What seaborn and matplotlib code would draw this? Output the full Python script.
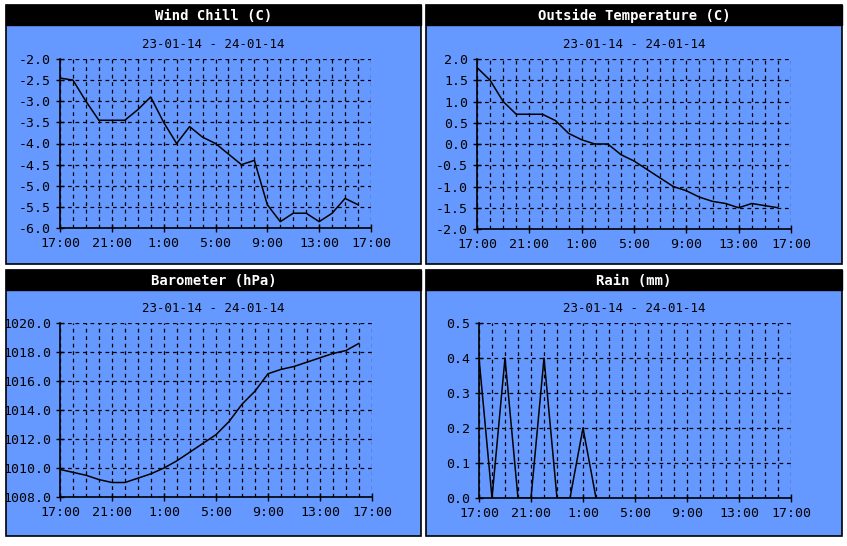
import numpy as np
import pandas as pd
import seaborn as sns
import matplotlib.pyplot as plt
from matplotlib.patches import Rectangle

hours = list(range(24))
tick_labels = ['17:00', '21:00', '1:00', '5:00', '9:00', '13:00', '17:00']

wind_chill = [-2.45, -2.5, -3.0, -3.45, -3.45, -3.45, -3.2, -2.9, -3.5, -4.0, -3.6, -3.85,
              -4.0, -4.25, -4.5, -4.4, -5.45, -5.85, -5.65, -5.65, -5.85, -5.65, -5.3, -5.45]
outside_temp = [1.8, 1.5, 1.0, 0.7, 0.7, 0.7, 0.55, 0.25, 0.1, 0.0, 0.0, -0.25,
                -0.4, -0.6, -0.8, -1.0, -1.1, -1.25, -1.35, -1.4, -1.5, -1.4, -1.45, -1.5]
barometer = [1009.9, 1009.7, 1009.5, 1009.2, 1009.0, 1009.0, 1009.3, 1009.6, 1010.0, 1010.5,
             1011.1, 1011.7, 1012.3, 1013.2, 1014.4, 1015.3, 1016.5, 1016.8, 1017.0, 1017.3,
             1017.6, 1017.9, 1018.1, 1018.6]
rain_hours = list(range(10))
rain = [0.4, 0.0, 0.4, 0.0, 0.0, 0.4, 0.0, 0.0, 0.2, 0.0]

W, H = 847, 546
BLUE = '#6699ff'
sns.set_style('white')
plt.rcParams['font.family'] = ['DejaVu Sans Mono', 'DejaVu Sans']
fig = plt.figure(figsize=(W / 100, H / 100), dpi=100)


def box(x0, y0, x1, y1):
    return [x0 / W, 1 - y1 / H, (x1 - x0) / W, (y1 - y0) / H]


panels = [
    ('Wind Chill (C)', hours, wind_chill, (-6.0, -2.0), 0.5, '%.1f', (6, 5, 421, 264), (60, 59, 371, 228)),
    ('Outside Temperature (C)', hours, outside_temp, (-2.0, 2.0), 0.5, '%.1f', (426, 5, 842, 264), (477, 59, 791, 229)),
    ('Barometer (hPa)', hours, barometer, (1008.0, 1020.0), 2.0, '%.1f', (6, 270, 421, 536), (60, 323, 372, 497)),
    ('Rain (mm)', rain_hours, rain, (0.0, 0.5), 0.1, '%.1f', (426, 270, 842, 536), (479, 323, 791, 498)),
]

for title, xs, ys, ylim, ystep, fmt, pb, ab in panels:
    x0, y0, x1, y1 = pb
    fig.patches.append(Rectangle((x0 / W, 1 - y1 / H), (x1 - x0) / W, (y1 - y0) / H,
                                 transform=fig.transFigure, facecolor=BLUE,
                                 edgecolor='black', lw=1.2, zorder=-10))
    fig.patches.append(Rectangle((x0 / W, 1 - (y0 + 20) / H), (x1 - x0) / W, 20 / H,
                                 transform=fig.transFigure, facecolor='black',
                                 edgecolor='black', zorder=-9))
    fig.text((x0 + x1) / 2 / W, 1 - (y0 + 11) / H, title, color='white', fontsize=10,
             fontweight='bold', ha='center', va='center')
    fig.text((x0 + x1) / 2 / W, 1 - (y0 + 39) / H, '23-01-14 - 24-01-14', color='black',
             fontsize=9, ha='center', va='center')

    ax = fig.add_axes(box(*ab))
    ax.set_facecolor('none')
    ax.patch.set_alpha(0)
    df = pd.DataFrame({'hour': xs, 'value': ys})
    sns.lineplot(data=df, x='hour', y='value', ax=ax, color='black', lw=1.1)
    ax.set_xlim(0, 24)
    ax.set_ylim(*ylim)
    ax.set_xticks(range(0, 25, 4))
    ax.set_xticklabels(tick_labels)
    ax.set_xticks(range(25), minor=True)
    yt = np.arange(ylim[0], ylim[1] + ystep / 2, ystep)
    ax.set_yticks(yt)
    ax.set_yticklabels([fmt % v for v in yt])
    ax.grid(True, which='both', axis='x', color='black', ls=(0, (3, 3)), lw=0.9)
    ax.grid(True, which='major', axis='y', color='black', ls=(0, (3, 3)), lw=0.9)
    ax.set_xlabel('')
    ax.set_ylabel('')
    for s in ['top', 'right']:
        ax.spines[s].set_visible(False)
    for s in ['left', 'bottom']:
        ax.spines[s].set_color('black')
        ax.spines[s].set_linewidth(1.2)
    ax.tick_params(which='major', direction='inout', length=6, width=1, labelsize=9.5,
                   colors='black', bottom=True, left=True)
    ax.tick_params(which='minor', length=0)

fig.savefig('out.png', dpi=100, facecolor='white')
